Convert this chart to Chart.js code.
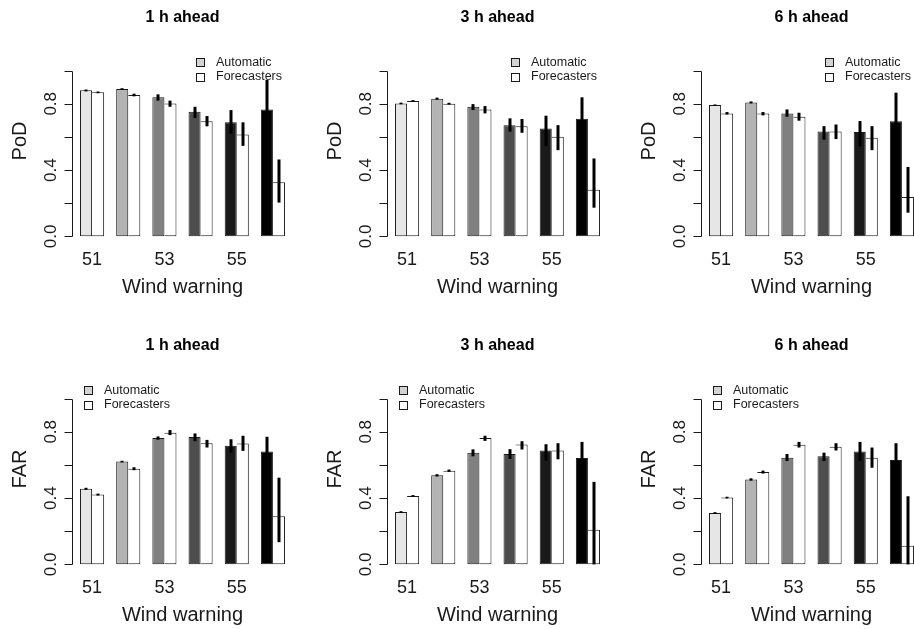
<!DOCTYPE html>
<html>
<head>
<meta charset="utf-8">
<script src="https://cdn.jsdelivr.net/npm/chart.js@4/dist/chart.umd.min.js"></script>
<style>
  html, body { margin: 0; padding: 0; background: #ffffff; width: 914px; height: 629px; overflow: hidden; }
  .panel { position: absolute; width: 314px; height: 314px; }
</style>
</head>
<body>
<div class="panel" style="left:0px;top:0px"><canvas id="c0" width="314" height="314"></canvas></div>
<div class="panel" style="left:315px;top:0px"><canvas id="c1" width="314" height="314"></canvas></div>
<div class="panel" style="left:629px;top:0px"><canvas id="c2" width="314" height="314"></canvas></div>
<div class="panel" style="left:0px;top:328px"><canvas id="c3" width="314" height="314"></canvas></div>
<div class="panel" style="left:315px;top:328px"><canvas id="c4" width="314" height="314"></canvas></div>
<div class="panel" style="left:629px;top:328px"><canvas id="c5" width="314" height="314"></canvas></div>
<script>
// ---------------- DATA ----------------
const categories = ['51', '52', '53', '54', '55', '56'];
const xTickShown = ['51', '53', '55'];
const yTicks = [0, 0.2, 0.4, 0.6, 0.8, 1.0];
const yTickLabels = ['0.0', '', '0.4', '', '0.8', ''];
const seriesNames = ['Automatic', 'Forecasters'];
const titles = ['1 h ahead', '3 h ahead', '6 h ahead'];
const xTitle = 'Wind warning';

// PoD, 1 h ahead
const pod1Auto   = [0.881, 0.889, 0.839, 0.752, 0.688, 0.766];
const pod1AutoLo = [0.875, 0.884, 0.819, 0.714, 0.620, 0.588];
const pod1AutoHi = [0.886, 0.894, 0.857, 0.782, 0.762, 0.944];
const pod1Fore   = [0.869, 0.853, 0.802, 0.694, 0.615, 0.327];
const pod1ForeLo = [0.864, 0.845, 0.782, 0.664, 0.546, 0.204];
const pod1ForeHi = [0.874, 0.861, 0.819, 0.726, 0.688, 0.464];
// PoD, 3 h ahead
const pod3Auto   = [0.802, 0.831, 0.782, 0.671, 0.651, 0.710];
const pod3AutoLo = [0.797, 0.825, 0.762, 0.632, 0.545, 0.581];
const pod3AutoHi = [0.807, 0.837, 0.798, 0.712, 0.728, 0.839];
const pod3Fore   = [0.817, 0.800, 0.766, 0.665, 0.601, 0.282];
const pod3ForeLo = [0.812, 0.795, 0.742, 0.625, 0.520, 0.173];
const pod3ForeHi = [0.822, 0.806, 0.786, 0.708, 0.671, 0.470];
// PoD, 6 h ahead
const pod6Auto   = [0.792, 0.808, 0.742, 0.633, 0.629, 0.694];
const pod6AutoLo = [0.788, 0.802, 0.722, 0.583, 0.544, 0.521];
const pod6AutoHi = [0.796, 0.814, 0.766, 0.665, 0.696, 0.867];
const pod6Fore   = [0.742, 0.742, 0.722, 0.633, 0.595, 0.238];
const pod6ForeLo = [0.735, 0.730, 0.698, 0.587, 0.520, 0.143];
const pod6ForeHi = [0.750, 0.750, 0.746, 0.675, 0.665, 0.419];
// FAR, 1 h ahead
const far1Auto   = [0.456, 0.620, 0.762, 0.768, 0.715, 0.681];
const far1AutoLo = [0.450, 0.615, 0.752, 0.743, 0.674, 0.592];
const far1AutoHi = [0.462, 0.625, 0.772, 0.790, 0.755, 0.770];
const far1Fore   = [0.421, 0.577, 0.794, 0.731, 0.729, 0.290];
const far1ForeLo = [0.415, 0.568, 0.780, 0.705, 0.685, 0.134];
const far1ForeHi = [0.427, 0.586, 0.810, 0.751, 0.776, 0.523];
// FAR, 3 h ahead
const far3Auto   = [0.316, 0.537, 0.674, 0.666, 0.687, 0.642];
const far3AutoLo = [0.311, 0.530, 0.652, 0.636, 0.626, 0.545];
const far3AutoHi = [0.321, 0.544, 0.694, 0.695, 0.725, 0.739];
const far3Fore   = [0.413, 0.565, 0.762, 0.723, 0.687, 0.209];
const far3ForeLo = [0.408, 0.558, 0.745, 0.693, 0.634, 0.000];
const far3ForeHi = [0.418, 0.572, 0.776, 0.743, 0.731, 0.498];
// FAR, 6 h ahead
const far6Auto   = [0.310, 0.512, 0.644, 0.652, 0.681, 0.630];
const far6AutoLo = [0.305, 0.505, 0.624, 0.624, 0.624, 0.529];
const far6AutoHi = [0.315, 0.519, 0.666, 0.674, 0.739, 0.731];
const far6Fore   = [0.403, 0.557, 0.721, 0.709, 0.644, 0.113];
const far6ForeLo = [0.398, 0.548, 0.705, 0.687, 0.583, 0.000];
const far6ForeHi = [0.408, 0.566, 0.739, 0.731, 0.705, 0.411];

// ---------------- STYLE ----------------
const autoColors = ['#e6e6e6', '#b3b3b3', '#808080', '#4d4d4d', '#1a1a1a', '#000000'];
const legendAutoColor = '#d3d3d3';
const FONT = '"Liberation Sans", Arial, Helvetica, sans-serif';
const INK = '#1a1a1a';

const panels = [
  { id: 'c0', title: titles[0], ylab: 'PoD', auto: [pod1Auto, pod1AutoLo, pod1AutoHi], fore: [pod1Fore, pod1ForeLo, pod1ForeHi], legendX: 196 },
  { id: 'c1', title: titles[1], ylab: 'PoD', auto: [pod3Auto, pod3AutoLo, pod3AutoHi], fore: [pod3Fore, pod3ForeLo, pod3ForeHi], legendX: 196 },
  { id: 'c2', title: titles[2], ylab: 'PoD', auto: [pod6Auto, pod6AutoLo, pod6AutoHi], fore: [pod6Fore, pod6ForeLo, pod6ForeHi], legendX: 196 },
  { id: 'c3', title: titles[0], ylab: 'FAR', auto: [far1Auto, far1AutoLo, far1AutoHi], fore: [far1Fore, far1ForeLo, far1ForeHi], legendX: 84 },
  { id: 'c4', title: titles[1], ylab: 'FAR', auto: [far3Auto, far3AutoLo, far3AutoHi], fore: [far3Fore, far3ForeLo, far3ForeHi], legendX: 84 },
  { id: 'c5', title: titles[2], ylab: 'FAR', auto: [far6Auto, far6AutoLo, far6AutoHi], fore: [far6Fore, far6ForeLo, far6ForeHi], legendX: 84 }
];

// error bars drawn from each dataset's lo/hi through the y scale
const errorBarPlugin = {
  id: 'errorBars',
  afterDatasetsDraw(chart) {
    const ctx = chart.ctx;
    const y = chart.scales.y;
    ctx.save();
    ctx.strokeStyle = '#000000';
    ctx.lineWidth = 3;
    ctx.lineCap = 'butt';
    chart.data.datasets.forEach((ds, di) => {
      const meta = chart.getDatasetMeta(di);
      meta.data.forEach((bar, i) => {
        const x = Math.round(bar.x);
        ctx.beginPath();
        ctx.moveTo(x, y.getPixelForValue(ds.lo[i]));
        ctx.lineTo(x, y.getPixelForValue(ds.hi[i]));
        ctx.stroke();
      });
    });
    ctx.restore();
  }
};

// R-style axes, titles and legend
const decorPlugin = {
  id: 'decor',
  afterDraw(chart) {
    const p = chart.options.plugins.decor;
    const ctx = chart.ctx;
    const xs = chart.scales.x, ys = chart.scales.y;
    const c0 = xs.getPixelForValue(0);
    const c5 = xs.getPixelForValue(categories.length - 1);
    const unit = (xs.getPixelForValue(1) - c0) / 3;
    const axisX = Math.round(c0 - 1.68 * unit) + 0.5;
    const midX = (c0 + c5) / 2;
    ctx.save();
    // y axis line & ticks
    ctx.strokeStyle = INK;
    ctx.lineWidth = 1;
    ctx.beginPath();
    ctx.moveTo(axisX, Math.round(ys.getPixelForValue(yTicks[0])) + 0.5);
    ctx.lineTo(axisX, Math.round(ys.getPixelForValue(yTicks[yTicks.length - 1])) + 0.5);
    yTicks.forEach(v => {
      const py = Math.round(ys.getPixelForValue(v)) + 0.5;
      ctx.moveTo(axisX, py);
      ctx.lineTo(axisX - 8, py);
    });
    ctx.stroke();
    // y tick labels (rotated, R style)
    ctx.fillStyle = INK;
    ctx.font = '17px ' + FONT;
    ctx.textAlign = 'center';
    ctx.textBaseline = 'alphabetic';
    yTicks.forEach((v, i) => {
      if (!yTickLabels[i]) return;
      const py = ys.getPixelForValue(v);
      ctx.save();
      ctx.translate(axisX - 17, py);
      ctx.rotate(-Math.PI / 2);
      ctx.fillText(yTickLabels[i], 0, 0);
      ctx.restore();
    });
    // y title
    ctx.font = '20px ' + FONT;
    ctx.save();
    ctx.translate(axisX - 47, 141);
    ctx.rotate(-Math.PI / 2);
    ctx.fillText(p.ylab, 0, 0);
    ctx.restore();
    // x tick labels
    ctx.font = '18px ' + FONT;
    categories.forEach((c, i) => {
      if (xTickShown.indexOf(c) < 0) return;
      ctx.fillText(c, xs.getPixelForValue(i), 265);
    });
    // x title
    ctx.font = '20px ' + FONT;
    ctx.fillText(xTitle, midX, 293);
    // main title
    ctx.fillStyle = '#000000';
    ctx.font = 'bold 16px ' + FONT;
    ctx.fillText(p.title, midX, 22);
    // legend
    ctx.font = '12.5px ' + FONT;
    ctx.textAlign = 'left';
    ctx.textBaseline = 'middle';
    const ly = [62, 76.5];
    const fills = [legendAutoColor, '#ffffff'];
    seriesNames.forEach((name, i) => {
      const sx = p.legendX + 0.5, sy = Math.round(ly[i] - 4) + 0.5;
      ctx.fillStyle = fills[i];
      ctx.fillRect(sx, sy, 8, 8);
      ctx.strokeStyle = INK;
      ctx.strokeRect(sx, sy, 8, 8);
      ctx.fillStyle = INK;
      ctx.fillText(name, p.legendX + 20, ly[i] + 0.5);
    });
    ctx.restore();
  }
};

panels.forEach(p => {
  new Chart(document.getElementById(p.id), {
    type: 'bar',
    data: {
      labels: categories,
      datasets: [
        { label: seriesNames[0], data: p.auto[0], lo: p.auto[1], hi: p.auto[2],
          backgroundColor: autoColors, borderColor: INK, borderWidth: 1, borderSkipped: false },
        { label: seriesNames[1], data: p.fore[0], lo: p.fore[1], hi: p.fore[2],
          backgroundColor: '#ffffff', borderColor: INK, borderWidth: 1, borderSkipped: 'left' }
      ]
    },
    options: {
      responsive: false,
      animation: false,
      devicePixelRatio: 1,
      categoryPercentage: 2 / 3,
      barPercentage: 1,
      layout: { padding: { left: 74, right: 23, top: 64, bottom: 71 } },
      scales: {
        x: { display: false, offset: true },
        y: { display: false, min: -0.04, max: 1.04 }
      },
      plugins: {
        legend: { display: false },
        tooltip: { enabled: false },
        title: { display: false },
        decor: { title: p.title, ylab: p.ylab, legendX: p.legendX }
      }
    },
    plugins: [errorBarPlugin, decorPlugin]
  });
});
</script>
</body>
</html>
